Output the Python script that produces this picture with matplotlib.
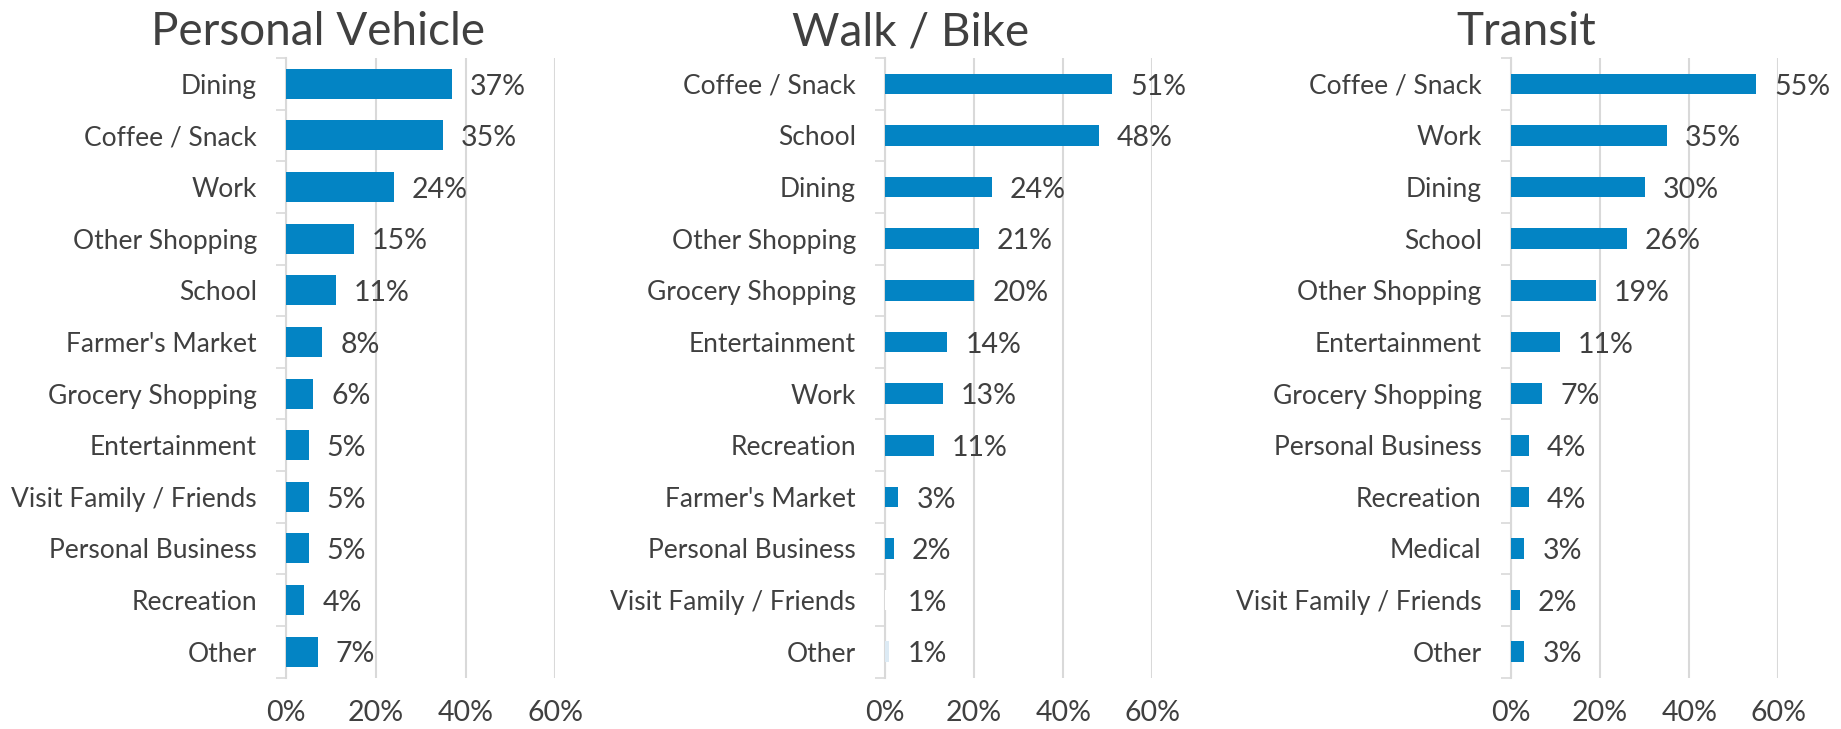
import matplotlib
matplotlib.use('Agg')
import matplotlib.pyplot as plt
from matplotlib.ticker import FuncFormatter, FixedLocator

# data (percent values, top to bottom)
pv_cats = ['Dining', 'Coffee / Snack', 'Work', 'Other Shopping', 'School',
           "Farmer's Market", 'Grocery Shopping', 'Entertainment',
           'Visit Family / Friends', 'Personal Business', 'Recreation', 'Other']
pv_vals = [37, 35, 24, 15, 11, 8, 6, 5, 5, 5, 4, 7]

wb_cats = ['Coffee / Snack', 'School', 'Dining', 'Other Shopping', 'Grocery Shopping',
           'Entertainment', 'Work', 'Recreation', "Farmer's Market",
           'Personal Business', 'Visit Family / Friends', 'Other']
wb_vals = [51, 48, 24, 21, 20, 14, 13, 11, 3, 2, 1, 1]

tr_cats = ['Coffee / Snack', 'Work', 'Dining', 'School', 'Other Shopping',
           'Entertainment', 'Grocery Shopping', 'Personal Business', 'Recreation',
           'Medical', 'Visit Family / Friends', 'Other']
tr_vals = [55, 35, 30, 26, 19, 11, 7, 4, 4, 3, 2, 3]

titles = ['Personal Vehicle', 'Walk / Bike', 'Transit']
x_ticks = [0, 20, 40, 60]

BLUE = '#0384c4'
TEXT = '#404040'
GRID = '#d9d9d9'

plt.rcParams['font.family'] = ['Lato', 'DejaVu Sans']

fig = plt.figure(figsize=(18.41, 7.29), dpi=100)

panels = [
    (pv_cats, pv_vals, 0.1555, 0.1461, 0.58, [BLUE] * 12),
    (wb_cats, wb_vals, 0.4807, 0.1453, 0.40, [BLUE] * 10 + ['white', '#dceaf4']),
    (tr_cats, tr_vals, 0.8207, 0.1453, 0.40, [BLUE] * 12),
]
title_x = [318, 911, 1526]

for (cats, vals, left, width, bh, colors), title, tx in zip(panels, titles, title_x):
    ax = fig.add_axes([left, 0.0706, width, 0.8498])
    ypos = list(range(len(cats)))
    fracs = [v / 100 for v in vals]
    ax.barh(ypos, fracs, height=bh, color=colors, zorder=3)
    for y, f, v in zip(ypos, fracs, vals):
        ax.annotate(f'{v}%', xy=(f, y), xytext=(13, -2), textcoords='offset points',
                    ha='left', va='center', fontsize=20.5, color=TEXT, annotation_clip=False)

    ax.set_xlim(0, 0.6)
    ax.set_ylim(len(cats) - 0.5, -0.5)
    ax.set_yticks(ypos)
    ax.set_yticklabels(cats)
    ax.yaxis.set_minor_locator(FixedLocator([i - 0.5 for i in range(len(cats) + 1)]))
    ax.tick_params(axis='y', which='major', length=0, pad=21, labelsize=19, labelcolor=TEXT)
    ax.tick_params(axis='y', which='minor', length=7, width=1.2, color=GRID)

    ax.set_xticks([t / 100 for t in x_ticks])
    ax.xaxis.set_major_formatter(FuncFormatter(lambda v, p: f'{v * 100:.0f}%'))
    ax.tick_params(axis='x', length=0, pad=16, labelsize=20.5, labelcolor=TEXT)
    ax.grid(axis='x', color=GRID, linewidth=1.5, zorder=0)

    for s in ['top', 'right', 'bottom']:
        ax.spines[s].set_visible(False)
    ax.spines['left'].set_color(GRID)
    ax.spines['left'].set_linewidth(1.5)

    fig.text(tx / 1841, 1 - 45 / 729, title, ha='center', va='baseline',
             fontsize=33, color=TEXT)

fig.savefig('out.png', dpi=100)
